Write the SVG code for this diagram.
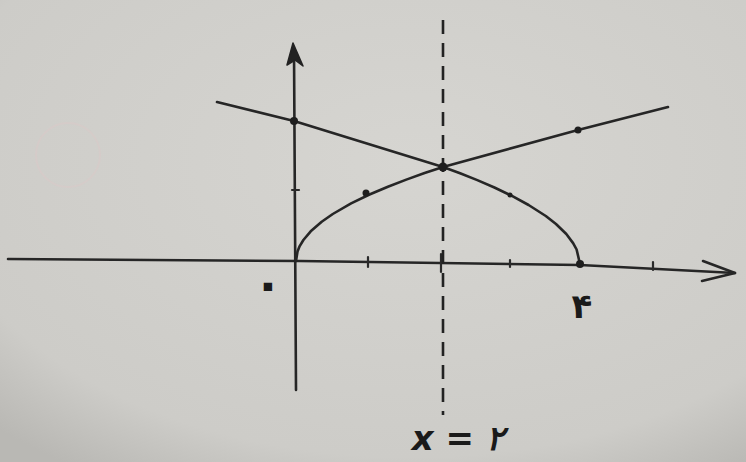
<svg xmlns="http://www.w3.org/2000/svg" width="746" height="462" viewBox="0 0 746 462">
<defs>
<radialGradient id="paper" cx="0.55" cy="0.35" r="0.8">
<stop offset="0" stop-color="#d6d5d1"/>
<stop offset="0.8" stop-color="#cdccc8"/>
<stop offset="1" stop-color="#b9b8b4"/>
</radialGradient>
<style>
.ink{fill:none;stroke:#262626;stroke-width:2.6;stroke-linecap:round;stroke-linejoin:round}
.thin{fill:none;stroke:#2a2a2a;stroke-width:2.2;stroke-linecap:round}
.dash{fill:none;stroke:#222;stroke-width:2.6;stroke-dasharray:14 9}
.dot{fill:#1e1e1e}
.lbl{font-family:"DejaVu Sans","Noto Sans",sans-serif;fill:#1a1a1a}
</style>
</defs>
<rect width="746" height="462" fill="url(#paper)"/>
<circle cx="68" cy="155" r="32" fill="none" stroke="#d9c9c8" stroke-width="2" opacity="0.6"/>
<g id="axes">
<path class="ink" d="M8,259 L300,261 L580,265 L735,273"/>
<path class="ink" d="M703,261 L735,273 L702,281"/>
<path class="ink" d="M296,390 L294,50"/>
<path fill="#222" stroke="#222" stroke-width="1.5" stroke-linejoin="round" d="M293,43 L303,66 L295,60 L287,65 Z"/>
<g class="thin">
<path d="M368,257 L368,267"/>
<path d="M441,254 L441,272"/>
<path d="M510,260 L510,267"/>
<path d="M653,262 L653,270"/>
<path d="M292,190 L299,190"/>
</g>
</g>
<g id="asymptote">
<path class="dash" d="M443,20 L443,415"/>
</g>
<g id="connectors">
<path class="ink" d="M296,261 L297.5,251.6 L299.7,246.1 L303.4,240 L310.7,231.3 L321.7,221.7 L332.8,214 L351.1,203.4 L369.5,194.5 L387.9,186.7 L406.3,179.6 L424.6,173 L443,167"/>
<path class="ink" d="M443,167 L460.1,173.3 L477.3,180.1 L494.4,187.5 L511.5,195.7 L528.6,205 L545.8,216 L556,224 L566.3,234 L573.1,243.1 L576.6,249.5 L580,264"/>
<path class="ink" d="M217,102 L294,121 L443,167"/>
<path class="ink" d="M443,167 L578,130 L668,107"/>
</g>
<g id="points">
<circle class="dot" cx="294" cy="121" r="4"/>
<circle class="dot" cx="366" cy="193" r="3.5"/>
<circle class="dot" cx="443" cy="167" r="4.5"/>
<circle class="dot" cx="510" cy="195" r="2.5"/>
<circle class="dot" cx="578" cy="130" r="3.5"/>
<circle class="dot" cx="580" cy="264" r="4"/>
</g>
<g id="labels">
<text class="lbl" x="268" y="300" font-size="48" font-weight="bold" text-anchor="middle">۰</text>
<text class="lbl" x="582" y="318" font-size="34" font-weight="bold" text-anchor="middle">۴</text>
<text class="lbl" x="458" y="450" font-size="34" font-weight="bold" text-anchor="middle" font-style="italic">x = ۲</text>
</g>
</svg>
